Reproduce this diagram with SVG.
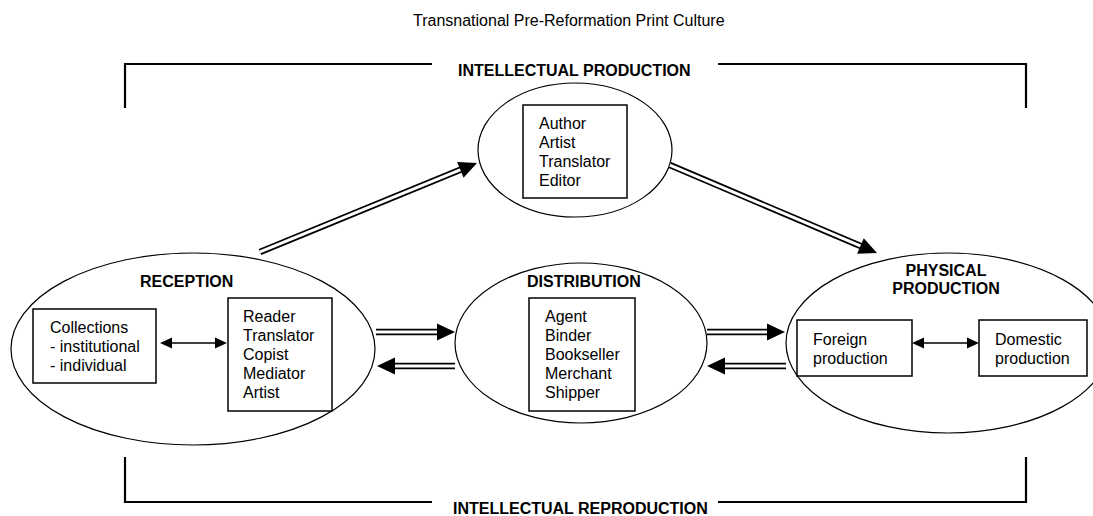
<svg xmlns="http://www.w3.org/2000/svg" width="1093" height="516" viewBox="0 0 1093 516">
<style>
text{font-family:"Liberation Sans",Arial,sans-serif;font-size:16px;fill:#000}
.b{font-weight:bold}
.ell{fill:none;stroke:#000;stroke-width:1.2}
.box{fill:#fff;stroke:#000;stroke-width:1.5}
.br{fill:none;stroke:#000;stroke-width:2.2}
.dlo{stroke:#000;stroke-width:6.5;fill:none}
.dli{stroke:#fff;stroke-width:3;fill:none}
.thin{stroke:#000;stroke-width:1.5;fill:none}
</style>
<defs>
<polygon id="bigHead" points="0,0 -18,-8.5 -18,8.5" fill="#000"/>
<polygon id="smallHead" points="0,0 -12,-5.5 -12,5.5" fill="#000"/>
</defs>
<rect width="1093" height="516" fill="#fff"/>
<text x="413" y="26">Transnational Pre-Reformation Print Culture</text>
<g id="bracket-top">
<polyline class="br" points="125,108 125,64 432,64"/>
<polyline class="br" points="718,64 1026,64 1026,108"/>
<text class="b" x="458" y="76">INTELLECTUAL PRODUCTION</text>
</g>
<g id="bracket-bottom">
<polyline class="br" points="125,457 125,502 432,502"/>
<polyline class="br" points="718,502 1026,502 1026,457"/>
<text class="b" x="453" y="514">INTELLECTUAL REPRODUCTION</text>
</g>
<g id="intellectual">
<ellipse class="ell" cx="575" cy="150" rx="97" ry="67"/>
<rect class="box" x="523" y="105" width="104" height="93"/>
<text x="539" y="129">Author</text>
<text x="539" y="148">Artist</text>
<text x="539" y="167">Translator</text>
<text x="539" y="186">Editor</text>
</g>
<g id="reception">
<ellipse class="ell" cx="193" cy="349" rx="182" ry="96"/>
<text class="b" x="140" y="287">RECEPTION</text>
<rect class="box" x="33" y="309" width="123" height="74"/>
<text x="50" y="333">Collections</text>
<text x="50" y="352">- institutional</text>
<text x="50" y="371">- individual</text>
<rect class="box" x="228" y="298" width="104" height="113"/>
<text x="243" y="322">Reader</text>
<text x="243" y="341">Translator</text>
<text x="243" y="360">Copist</text>
<text x="243" y="379">Mediator</text>
<text x="243" y="398">Artist</text>
</g>
<g id="distribution">
<ellipse class="ell" cx="581" cy="343" rx="126" ry="80"/>
<text class="b" x="527" y="287">DISTRIBUTION</text>
<rect class="box" x="529" y="298" width="106" height="113"/>
<text x="545" y="322">Agent</text>
<text x="545" y="341">Binder</text>
<text x="545" y="360">Bookseller</text>
<text x="545" y="379">Merchant</text>
<text x="545" y="398">Shipper</text>
</g>
<g id="physical">
<ellipse class="ell" cx="948" cy="343" rx="162" ry="90"/>
<text class="b" x="946" y="276" text-anchor="middle">PHYSICAL</text>
<text class="b" x="946" y="294" text-anchor="middle">PRODUCTION</text>
<rect class="box" x="797" y="320" width="115" height="56"/>
<text x="813" y="345">Foreign</text>
<text x="813" y="364">production</text>
<rect class="box" x="979" y="320" width="108" height="56"/>
<text x="995" y="345">Domestic</text>
<text x="995" y="364">production</text>
</g>
<g id="connectors">
<g transform="translate(477,163) rotate(-22.3)">
<line class="dlo" x1="-234.5" y1="0" x2="-14" y2="0"/>
<line class="dli" x1="-234.5" y1="0" x2="-13" y2="0"/>
<use href="#bigHead"/>
</g>
<g transform="translate(877,253) rotate(23)">
<line class="dlo" x1="-225" y1="0" x2="-14" y2="0"/>
<line class="dli" x1="-225" y1="0" x2="-13" y2="0"/>
<use href="#bigHead"/>
</g>
<g transform="translate(455,332)">
<line class="dlo" x1="-79" y1="0" x2="-14" y2="0"/>
<line class="dli" x1="-79" y1="0" x2="-13" y2="0"/>
<use href="#bigHead"/>
</g>
<g transform="translate(377,366) rotate(180)">
<line class="dlo" x1="-78" y1="0" x2="-14" y2="0"/>
<line class="dli" x1="-78" y1="0" x2="-13" y2="0"/>
<use href="#bigHead"/>
</g>
<g transform="translate(785,332)">
<line class="dlo" x1="-78" y1="0" x2="-14" y2="0"/>
<line class="dli" x1="-78" y1="0" x2="-13" y2="0"/>
<use href="#bigHead"/>
</g>
<g transform="translate(707,366) rotate(180)">
<line class="dlo" x1="-79" y1="0" x2="-14" y2="0"/>
<line class="dli" x1="-79" y1="0" x2="-13" y2="0"/>
<use href="#bigHead"/>
</g>
<line class="thin" x1="168" y1="343" x2="219" y2="343"/>
<use href="#smallHead" transform="translate(227,343)"/>
<use href="#smallHead" transform="translate(160,343) rotate(180)"/>
<line class="thin" x1="920" y1="343" x2="971" y2="343"/>
<use href="#smallHead" transform="translate(979,343)"/>
<use href="#smallHead" transform="translate(912,343) rotate(180)"/>
</g>
</svg>
